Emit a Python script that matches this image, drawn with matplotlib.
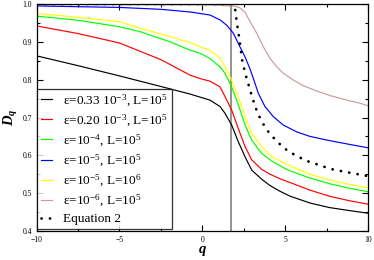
import matplotlib
matplotlib.use("Agg")
import matplotlib.pyplot as plt
from matplotlib.ticker import MultipleLocator

plt.rcParams['font.family'] = ['Liberation Serif', 'DejaVu Serif']
plt.rcParams['mathtext.fontset'] = 'custom'
plt.rcParams['mathtext.rm'] = 'Liberation Serif'
plt.rcParams['mathtext.it'] = 'Liberation Serif:italic'
plt.rcParams['mathtext.bf'] = 'Liberation Serif:bold'
plt.rcParams['mathtext.bfit'] = 'Liberation Serif:italic:bold'

# ---- data ----
q_black = [-10, -7.5, -5, -2.5, -0.74, 0.46, 1.07, 1.37, 1.77, 2.17, 2.58, 2.98, 3.58, 4.09, 4.69, 5.3, 6.5, 7.67, 8.88, 10]
d_black = [0.863, 0.837, 0.810, 0.782, 0.762, 0.746, 0.729, 0.711, 0.680, 0.636, 0.596, 0.561, 0.537, 0.520, 0.505, 0.492, 0.474, 0.462, 0.454, 0.447]

q_red = [-10, -7.5, -5, -2.5, -0.74, -0.14, 0.46, 1.07, 1.37, 1.77, 2.17, 2.58, 2.98, 3.58, 4.09, 4.69, 5.3, 6.5, 7.67, 8.88, 10]
d_red = [0.942, 0.922, 0.897, 0.853, 0.812, 0.803, 0.796, 0.781, 0.755, 0.720, 0.671, 0.623, 0.588, 0.563, 0.550, 0.538, 0.528, 0.508, 0.492, 0.480, 0.471]

q_green = [-10, -7.5, -5, -3.76, -1.94, -0.74, -0.14, 0.46, 1.07, 1.37, 1.77, 2.17, 2.58, 2.98, 3.58, 4.19, 4.99, 5.3, 6.5, 7.67, 8.88, 10]
d_green = [0.968, 0.957, 0.940, 0.927, 0.900, 0.878, 0.870, 0.856, 0.834, 0.817, 0.781, 0.734, 0.680, 0.640, 0.605, 0.585, 0.565, 0.559, 0.540, 0.525, 0.513, 0.504]

q_blue = [-10, -5, -2.5, -0.74, 0.46, 1.07, 1.47, 1.87, 2.27, 2.58, 2.89, 3.08, 3.38, 3.78, 4.29, 4.89, 5.70, 6.50, 7.67, 8.88, 10]
d_blue = [0.995, 0.991, 0.986, 0.979, 0.971, 0.958, 0.944, 0.923, 0.887, 0.860, 0.827, 0.803, 0.764, 0.729, 0.702, 0.680, 0.662, 0.650, 0.639, 0.629, 0.620]

q_yellow = [-10, -7.5, -5, -3.76, -1.94, -0.74, -0.14, 0.46, 1.07, 1.37, 1.77, 2.17, 2.58, 2.98, 3.58, 4.19, 4.99, 5.3, 6.5, 7.67, 8.88, 10]
d_yellow = [0.975, 0.965, 0.953, 0.936, 0.914, 0.898, 0.887, 0.878, 0.856, 0.834, 0.799, 0.755, 0.702, 0.658, 0.623, 0.596, 0.579, 0.572, 0.550, 0.535, 0.523, 0.514]

q_brown = [-10, 0, 1.0, 1.97, 2.27, 2.58, 2.89, 3.28, 3.68, 4.09, 4.49, 4.89, 5.49, 6.10, 6.50, 7.11, 7.71, 8.31, 8.91, 9.51, 10]
d_brown = [0.999, 0.998, 0.997, 0.994, 0.990, 0.978, 0.953, 0.923, 0.887, 0.856, 0.834, 0.817, 0.799, 0.784, 0.777, 0.767, 0.758, 0.751, 0.744, 0.738, 0.731]

q_eq2 = [-10, 1.9, 1.97, 2.07, 2.21, 2.41, 2.62, 2.80, 2.94, 3.04, 3.18, 3.38, 3.62, 3.84, 4.13, 4.49, 4.83, 5.19, 5.59, 6.03, 6.50, 6.94, 7.41, 7.87, 8.31, 8.79, 9.28, 9.76, 10]
d_eq2 = [1.0, 1.0, 0.99, 0.955, 0.915, 0.850, 0.812, 0.785, 0.764, 0.750, 0.730, 0.708, 0.687, 0.671, 0.654, 0.638, 0.623, 0.611, 0.601, 0.591, 0.582, 0.576, 0.569, 0.563, 0.559, 0.555, 0.551, 0.547, 0.545]

q_critical = 1.71

labels = [r'ε=0.33 10$^{-3}$, L=10$^{5}$',
          r'ε=0.20 10$^{-3}$, L=10$^{5}$',
          r'ε=10$^{-4}$, L=10$^{5}$',
          r'ε=10$^{-5}$, L=10$^{5}$',
          r'ε=10$^{-5}$, L=10$^{6}$',
          r'ε=10$^{-6}$, L=10$^{5}$',
          'Equation 2']

fig = plt.figure(figsize=(3.74, 2.6), dpi=100)
ax = fig.add_axes([0.098, 0.1115, 0.886, 0.873])

lw = 0.85
ax.plot(q_black, d_black, color='#000000', lw=lw, label=labels[0])
ax.plot(q_red, d_red, color='#ff0000', lw=lw, label=labels[1])
ax.plot(q_green, d_green, color='#00ff00', lw=lw, label=labels[2])
ax.plot(q_blue, d_blue, color='#0000ff', lw=lw, label=labels[3])
ax.plot(q_yellow, d_yellow, color='#ffff00', lw=lw, label=labels[4])
ax.plot(q_brown, d_brown, color='#c89c9c', lw=lw, label=labels[5])
ax.plot(q_eq2, d_eq2, color='black', lw=2.0, linestyle=(0, (0.05, 3.0)),
        dash_capstyle='round', label=labels[6])
ax.axvline(q_critical, color='#808080', lw=1.2, zorder=1)

ax.set_xlim(-10, 10)
ax.set_ylim(0.4, 1.0)
ax.xaxis.set_major_locator(MultipleLocator(5))
ax.xaxis.set_minor_locator(MultipleLocator(2.5))
ax.yaxis.set_major_locator(MultipleLocator(0.1))
ax.yaxis.set_minor_locator(MultipleLocator(0.05))
ax.tick_params(which='both', direction='in', top=True, right=True, labelsize=5.5, width=0.8)
ax.tick_params(which='major', length=4)
ax.tick_params(which='minor', length=2.5)
for s in ax.spines.values():
    s.set_linewidth(0.9)

ax.set_xlabel(r'$\mathbfit{q}$', fontsize=10.5, labelpad=0)
ax.set_ylabel(r'$\mathbfit{D_q}$', fontsize=10.5, labelpad=2)

leg = ax.legend(loc='lower left', bbox_to_anchor=(0.0, 0.008), borderaxespad=0,
                fontsize=9.5, handlelength=0.9, handletextpad=0.8, labelspacing=0.3,
                borderpad=0.3, frameon=True, fancybox=False, edgecolor='black')
leg.get_frame().set_linewidth(0.9)

fig.savefig('out.png', dpi=100)
